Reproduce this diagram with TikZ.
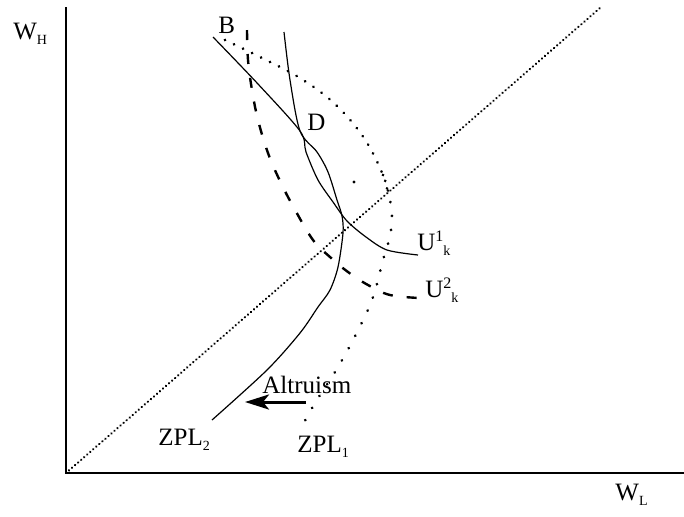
\documentclass[tikz,border=0pt]{standalone}
\usepackage{fontspec}
\setmainfont{Liberation Serif}
\usetikzlibrary{arrows.meta}
\tikzset{
  axisline/.style={line width=1pt,draw=black},
  diagline/.style={line width=1.25pt,dash pattern=on 0.01pt off 2pt,line cap=round},
  zplone/.style={line width=1.5pt,dash pattern=on 0.01pt off 5pt,line cap=round},
  zplonewide/.style={line width=1.5pt,dash pattern=on 0.01pt off 7pt,line cap=round},
  zpltwo/.style={line width=0.6pt},
  uone/.style={line width=0.6pt},
  utwo/.style={line width=1.2pt,dash pattern=on 5pt off 7pt},
  altarrow/.style={-{Stealth[length=12pt,width=7.5pt,inset=3pt]},line width=1.5pt},
  lbl/.style={inner sep=0pt,anchor=base west,font=\fontsize{12.5}{14}\selectfont}
}
\newcommand{\lsub}[1]{\raisebox{-0.45ex}{\fontsize{7}{8}\selectfont #1}}
\newcommand{\lsup}[1]{\raisebox{0.75ex}{\fontsize{8}{9}\selectfont #1}}

\begin{document}
\begin{tikzpicture}[x=0.5pt,y=-0.5pt]
  \useasboundingbox (0,0) rectangle (684,516);
  % axes
  \coordinate (origin) at (66,473);
  \coordinate (ytop) at (66,7);
  \coordinate (xend) at (684,473);
  \coordinate (diagend) at (600,8);
  \draw[axisline] (ytop) -- (origin) -- (xend);
  \draw[diagline] (origin) -- (diagend);
  % curves
  \draw[zplone] plot[smooth,tension=0.6] coordinates {(225,40) (260,57) (300,78) (335,104)
    (364,138) (383,175) (390,200)};
  \draw[zplonewide] plot[smooth,tension=0.6] coordinates {(383,175) (390,200) (392,220)
    (389,240) (383,260) (372,300) (353,340) (335,372) (315,403) (300,430)};
  \draw[zpltwo] plot[smooth,tension=0.5] coordinates {(284,32) (290,80) (300,131) (317,152)
    (328,172) (337,200) (342,216) (343,233) (338,267) (330,290) (318,307) (300,333)
    (267,370) (212,420)};
  \draw[uone] plot[smooth,tension=0.5] coordinates {(213,37) (258,84) (300,131) (306,152)
    (318,180) (333,202) (347,221) (366,237) (387,250) (418,255)};
  \draw[utwo] plot[smooth,tension=0.6] coordinates {(247,30) (248,60) (252,90) (258,120)
    (268,153) (280,181) (294,208) (313,240) (330,257) (348,272) (368,285) (390,295) (420,298)};
  \fill (354,182) circle[radius=0.8pt];
  % labels
  \node[lbl] (wh) at (13,39) {W\lsub{H}};
  \node[lbl] (wl) at (615,500) {W\lsub{L}};
  \node[lbl] (b) at (218,33) {B};
  \node[lbl] (d) at (307,130) {D};
  \node[lbl] (u1) at (417,250) {U\lsup{1}\lsub{k}};
  \node[lbl] (u2) at (425,297) {U\lsup{2}\lsub{k}};
  \node[lbl] (zpl2) at (158,445) {ZPL\lsub{2}};
  \node[lbl] (zpl1) at (297,452) {ZPL\lsub{1}};
  \node[lbl] (alt) at (262,393) {Altruism};
  \coordinate (altstart) at (306,402);
  \coordinate (altend) at (245,402);
  \draw[altarrow] (altstart) -- (altend);
\end{tikzpicture}
\end{document}
